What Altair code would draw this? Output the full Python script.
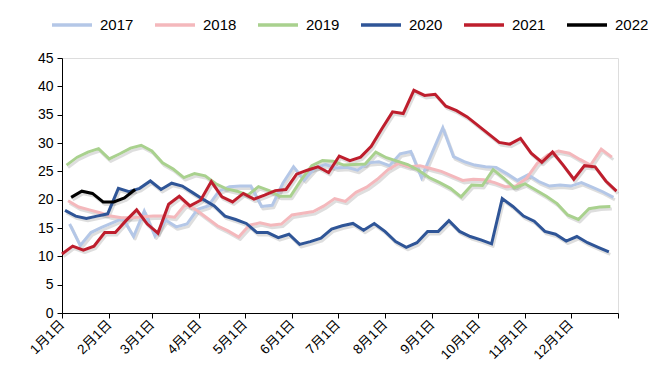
import altair as alt
import pandas as pd

years = ["2017", "2018", "2019", "2020", "2021", "2022"]
colors = ["#B4C7E7", "#F4B8BC", "#A9D18E", "#2F5597", "#BE1E2D", "#000000"]

v2017 = [15.7, 11.9, 14.2, 15.1, 15.9, 16.7, 13.5, 18.0, 13.6, 16.4, 15.2, 15.7, 18.3, 18.9,
         21.5, 22.3, 22.4, 22.4, 18.8, 19.0, 22.9, 25.8, 23.5, 25.6, 26.2, 25.6, 25.7, 25.2,
         26.5, 26.7, 26.0, 28.1, 28.5, 23.9, 28.3, 32.7, 27.6, 26.7, 26.1, 25.8, 25.7, 24.6,
         23.4, 24.4, 23.2, 22.4, 22.6, 22.4, 23.0, 22.2, 21.4, 20.4]
v2018 = [19.8, 18.7, 18.2, 17.7, 17.1, 16.8, 16.8, 17.0, 17.1, 17.1, 16.9, 19.2, 18.2, 16.8,
         15.4, 14.5, 13.4, 15.5, 15.9, 15.5, 15.7, 17.3, 17.6, 17.9, 18.9, 20.2, 19.7, 21.3,
         22.2, 23.6, 25.3, 26.4, 25.8, 26.0, 25.5, 25.0, 24.2, 23.4, 23.6, 23.5, 23.0, 22.3,
         22.4, 23.8, 26.4, 27.9, 28.6, 28.2, 27.1, 26.1, 28.9, 27.5]
v2019 = [26.1, 27.5, 28.4, 29.0, 27.2, 28.1, 29.1, 29.6, 28.6, 26.5, 25.4, 23.9, 24.6, 24.2,
         22.8, 21.9, 21.5, 20.8, 22.3, 21.6, 20.6, 20.6, 23.5, 26.0, 26.9, 26.8, 26.1, 26.2,
         26.3, 28.4, 27.4, 26.8, 26.2, 25.2, 23.9, 23.0, 22.0, 20.5, 22.6, 22.5, 25.3, 23.8,
         22.1, 22.8, 21.7, 20.6, 19.3, 17.3, 16.5, 18.4, 18.7, 18.8]
v2020 = [18.1, 17.1, 16.7, 17.1, 17.5, 22.0, 21.4, 22.0, 23.3, 21.8, 22.9, 22.4, 21.2, 20.0,
         18.9, 17.1, 16.5, 15.8, 14.2, 14.2, 13.3, 13.9, 12.1, 12.6, 13.2, 14.8, 15.4, 15.8,
         14.6, 15.8, 14.4, 12.6, 11.6, 12.4, 14.4, 14.4, 16.3, 14.4, 13.5, 12.9, 12.2, 20.2,
         18.8, 17.1, 16.2, 14.4, 13.9, 12.7, 13.5, 12.4, 11.6, 10.8]
v2021 = [10.4, 11.8, 11.1, 11.8, 14.2, 14.2, 16.3, 18.2, 15.7, 14.1, 19.2, 20.6, 18.9, 19.9,
         23.2, 20.5, 19.6, 21.1, 20.1, 20.8, 21.6, 21.8, 24.5, 25.2, 25.8, 24.8, 27.7, 26.9,
         27.5, 29.4, 32.5, 35.5, 35.2, 39.3, 38.4, 38.6, 36.5, 35.7, 34.6, 33.1, 31.6, 30.1,
         29.8, 30.8, 28.2, 26.6, 28.4, 26.1, 23.6, 26.0, 25.8, 23.3, 21.5]
v2022 = [20.4, 21.5, 21.1, 19.6, 19.6, 20.3, 21.8]

series = [v2017, v2018, v2019, v2020, v2021, v2022]

tick_days = [0, 31, 59, 90, 120, 151, 181, 212, 243, 273, 304, 334, 365]
tick_labels = ["1月1日", "2月1日", "3月1日", "4月1日", "5月1日", "6月1日", "7月1日",
               "8月1日", "9月1日", "10月1日", "11月1日", "12月1日", ""]

rows = []
for yr, vals in zip(years, series):
    # weekly (Friday) observations
    dates = pd.date_range(start=f"{yr}-01-01", periods=len(vals), freq="W-FRI")
    for d, v in zip(dates, vals):
        rows.append({"year": yr, "day": (d - pd.Timestamp(f"{yr}-01-01")).days, "value": v})
df = pd.DataFrame(rows)

label_expr = ("[" + ",".join(f"'{t}'" for t in tick_labels) + "][indexof(["
              + ",".join(str(t) for t in tick_days) + "], datum.value)]")

font = "Liberation Sans, Arial, Noto Sans CJK SC"

x = alt.X("day:Q",
          scale=alt.Scale(domain=[0, 365], nice=False, zero=False),
          axis=alt.Axis(values=tick_days, labelExpr=label_expr, labelAngle=-45,
                        labelAlign="right", labelBaseline="middle", grid=False,
                        title=None, domainColor="#000", tickColor="#000", tickSize=5,
                        labelFontSize=13.5, labelColor="#000", labelFont=font,
                        labelPadding=4, labelOverlap=False, labelBound=False))
y = alt.Y("value:Q",
          scale=alt.Scale(domain=[0, 45], nice=False),
          axis=alt.Axis(values=list(range(0, 46, 5)), grid=False, title=None,
                        domainColor="#000", tickColor="#000", tickSize=5,
                        labelFontSize=14, labelColor="#000", labelFont=font,
                        labelPadding=4))

base = alt.Chart(df)

shadow = base.mark_line(strokeWidth=3, color="#000", opacity=0.13,
                        xOffset=1.5, yOffset=2.5, strokeJoin="round").encode(
    x=x, y=y, detail="year:N")

lines = base.mark_line(strokeWidth=3, strokeJoin="miter").encode(
    x=x, y=y,
    color=alt.Color("year:N",
                    scale=alt.Scale(domain=years, range=colors),
                    legend=alt.Legend(title=None, orient="none", direction="horizontal",
                                      columns=6, legendX=-12, legendY=-55,
                                      symbolType="stroke", symbolSize=1600,
                                      symbolStrokeWidth=3.5, labelFontSize=15,
                                      labelFont=font, labelColor="#000",
                                      labelOffset=6, columnPadding=14,
                                      labelLimit=60)))

chart = alt.layer(shadow, lines).properties(
    width=556, height=255,
    autosize=alt.AutoSizeParams(type="none"),
    padding={"left": 54, "top": 50, "right": 30, "bottom": 70},
).configure_view(stroke=None).configure(background="#ffffff")

chart.save("out.html", embed_options={"renderer": "svg", "actions": False})
